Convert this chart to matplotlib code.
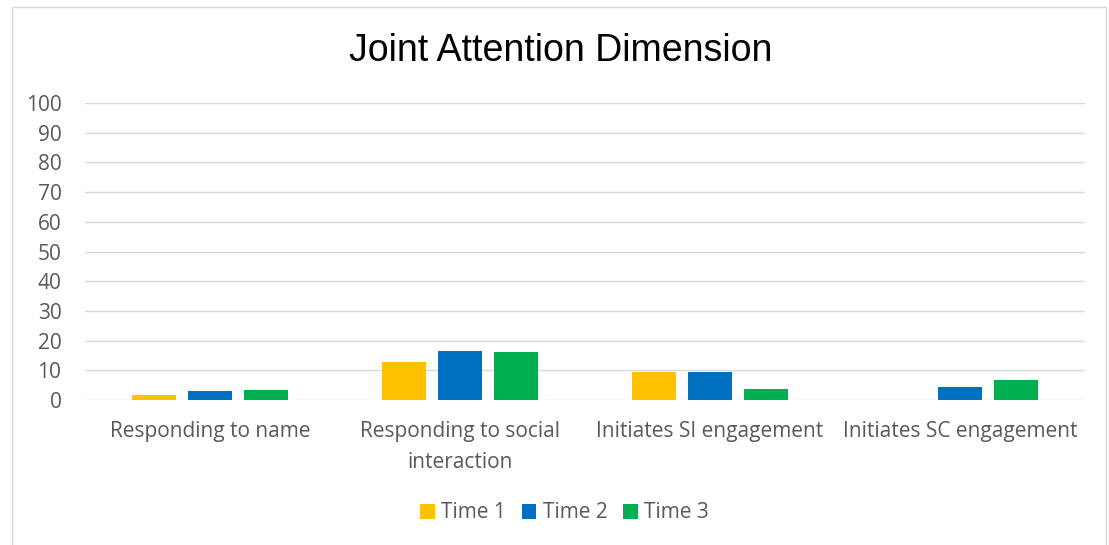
import numpy as np
import matplotlib.pyplot as plt
from matplotlib.patches import Rectangle

categories = ['Responding to name', 'Responding to social\ninteraction',
              'Initiates SI engagement', 'Initiates SC engagement']
time1 = [1.6, 12.8, 9.4, 0]
time2 = [3.1, 16.5, 9.5, 4.5]
time3 = [3.5, 16.0, 3.7, 6.9]
series = ['Time 1', 'Time 2', 'Time 3']
colors = ['#FFC000', '#0070C0', '#00B050']
yticks = list(range(0, 101, 10))

font = 'Open Sans'
fs = 15

fig = plt.figure(figsize=(11.09, 5.45), dpi=100)
# outer chart border
fig.patches.append(Rectangle((12 / 1109, -0.01), 1094 / 1109, 1 - 7 / 545 + 0.01,
                             transform=fig.transFigure, fill=False,
                             edgecolor='#D9D9D9', linewidth=1))
ax = fig.add_axes([85 / 1109, 1 - 400 / 545, 1000 / 1109, 297 / 545])

x = np.arange(len(categories))
width = 0.176
for i, (vals, name, c) in enumerate(zip([time1, time2, time3], series, colors)):
    ax.bar(x + (i - 1) * 0.224, vals, width, color=c, label=name, zorder=3)

ax.set_xlim(-0.5, len(categories) - 0.5)
ax.set_ylim(0, 100)
ax.set_yticks(yticks)
ax.yaxis.grid(True, color='#D9D9D9', linewidth=1, zorder=0)
for s in ax.spines.values():
    s.set_visible(False)
ax.tick_params(length=0, labelcolor='#595959')
ax.tick_params(axis='y', pad=17)
ax.tick_params(axis='x', pad=15)
ax.set_xticks(x)
ax.set_xticklabels(categories, fontfamily=font, fontsize=fs, linespacing=1.65)
for lab in ax.get_yticklabels():
    lab.set_fontfamily(font)
    lab.set_fontsize(fs)

fig.text(0.506, 1 - 51 / 545, 'Joint Attention Dimension', ha='center', va='center',
         fontsize=27, family='Liberation Sans', color='black')

leg = fig.legend(loc='center', bbox_to_anchor=(0.509, 1 - 513 / 545), ncol=3, frameon=False,
                 prop={'family': font, 'size': fs}, handlelength=0.7, handleheight=0.7,
                 columnspacing=0.75, handletextpad=0.3)
for t in leg.get_texts():
    t.set_color('#595959')

fig.savefig('out.png', dpi=100)
